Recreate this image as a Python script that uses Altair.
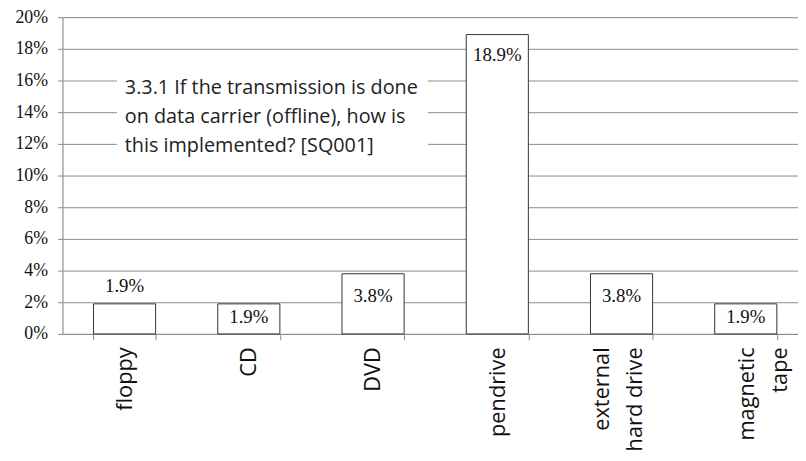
import altair as alt
import pandas as pd

# ---- data ----
categories = ["floppy", "CD", "DVD", "pendrive", "external\nhard drive", "magnetic\ntape"]
shares = [0.019, 0.019, 0.038, 0.189, 0.038, 0.019]
value_labels = ["1.9%", "1.9%", "3.8%", "18.9%", "3.8%", "1.9%"]
y_ticks = [0.0, 0.02, 0.04, 0.06, 0.08, 0.10, 0.12, 0.14, 0.16, 0.18, 0.20]
title_lines = "3.3.1 If the transmission is done\non data carrier (offline), how is\nthis implemented? [SQ001]"

# label placement relative to bar top (style only, px; negative = above)
label_dy = [-18, 13, 23, 21, 23, 13]

df = pd.DataFrame({
    "cat": categories,
    "share": shares,
    "lab": value_labels,
    "dy": label_dy,
})

GRID = "#8c8c8c"
W, H = 743, 320

x_scale = alt.Scale(range=[0, 753], paddingInner=0.5, paddingOuter=0.25)
y_scale = alt.Scale(domain=[0, 0.2], nice=False)

x_axis = alt.Axis(
    title=None,
    labelAngle=-90,
    labelFont="Open Sans",
    labelFontSize=22,
    labelLineHeight=33,
    labelColor="#111",
    labelPadding=7,
    labelExpr="split(datum.label, '\\n')",
    labelOffset={
        "condition": [
            {"test": "indexof(datum.label, 'external') >= 0", "value": -20},
            {"test": "indexof(datum.label, 'magnetic') >= 0", "value": 1},
        ],
        "value": 0,
    },
    tickBand="extent",
    tickSize=6,
    tickColor=GRID,
    domainColor=GRID,
    grid=False,
    labelOverlap=False,
)
y_axis = alt.Axis(
    title=None,
    values=y_ticks,
    format=".0%",
    labelFont="Liberation Serif",
    labelFontSize=18,
    labelColor="#111",
    labelPadding=10,
    labelOverlap=False,
    tickSize=5,
    tickColor=GRID,
    domainColor=GRID,
    gridColor=GRID,
    gridOpacity=1,
)

x_enc = alt.X("cat:N", sort=categories, scale=x_scale, axis=x_axis)
y_enc = alt.Y("share:Q", scale=y_scale, axis=y_axis)

bars = alt.Chart(df).mark_bar(
    fill="white", stroke="#333333", strokeWidth=1
).encode(x=x_enc, y=y_enc)

def label_layer(dy):
    return alt.Chart(df).transform_filter(f"datum.dy == {dy}").mark_text(
        font="Liberation Serif", fontSize=19, color="#111",
        baseline="middle", align="center", dy=dy,
    ).encode(x=x_enc, y=y_enc, text="lab:N")

label_layers = [label_layer(d) for d in sorted(set(label_dy))]

box = alt.Chart(df).transform_filter("datum.cat == 'floppy'").mark_rect(fill="white").encode(
    x=alt.value(55), x2=alt.value(369), y=alt.value(53), y2=alt.value(145)
)

title = alt.Chart(df).transform_filter("datum.cat == 'floppy'").mark_text(
    text=title_lines, lineBreak="\n", lineHeight=29, font="Open Sans", fontSize=20,
    color="#222", align="left", baseline="alphabetic",
).encode(x=alt.value(63), y=alt.value(78))

chart = alt.layer(bars, box, title, *label_layers).properties(
    width=W,
    height=H,
    autosize=alt.AutoSizeParams(type="none"),
    padding={"left": 55, "top": 7, "right": 0, "bottom": 116},
).configure_view(stroke=None).configure(background="white")

chart.save("out.html", embed_options={"renderer": "svg", "actions": False})
